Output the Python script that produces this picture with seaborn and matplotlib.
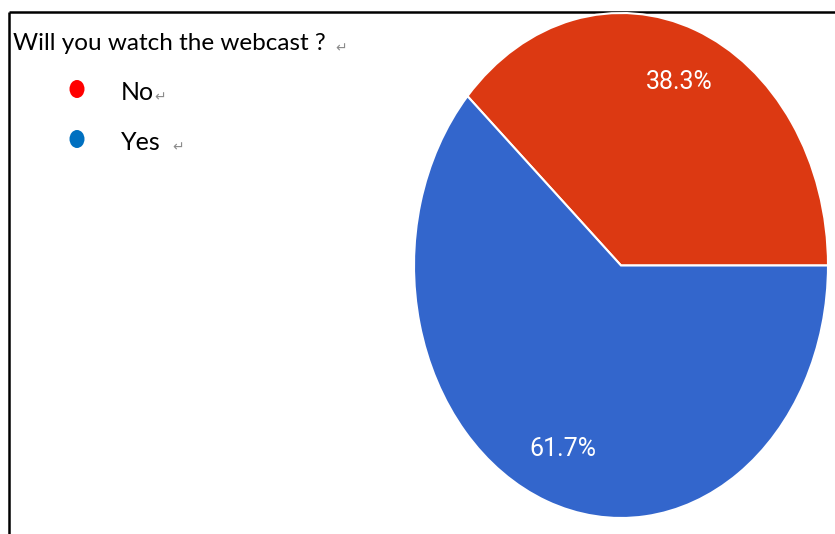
import matplotlib
matplotlib.use("Agg")
import matplotlib.pyplot as plt
import seaborn as sns
from matplotlib.patches import Ellipse

# Survey answers
question = "Will you watch the webcast ?"
answers = ["No", "Yes"]
shares = [38.3, 61.7]
slice_colors = ["#DC3912", "#3366CC"]
dot_colors = ["#FF0000", "#0070C0"]

sns.set_theme(style="white")
plt.rcParams["font.family"] = ["Lato", "DejaVu Sans"]

W, H = 835, 534
fig = plt.figure(figsize=(W / 100, H / 100), dpi=100)
fig.patch.set_facecolor("white")

# Full-figure overlay in pixel units for the frame and the key
ov = fig.add_axes([0, 0, 1, 1], zorder=0)
ov.set_xlim(0, W)
ov.set_ylim(H, 0)
ov.axis("off")

# Pie, stretched taller than wide
ax = fig.add_axes([414 / W, (H - 518) / H, 414 / W, 505 / H], zorder=1)
wedges, texts, autotexts = ax.pie(
    shares,
    colors=slice_colors,
    startangle=0,
    counterclock=True,
    autopct="%1.1f%%",
    pctdistance=0.78,
    wedgeprops=dict(edgecolor="white", linewidth=1.5),
    textprops=dict(color="white", fontsize=18, family=["Roboto", "DejaVu Sans"]),
)
for w in wedges:
    w.set_clip_on(False)
ax.set_aspect("auto")
ax.set_xlim(-1, 1)
ax.set_ylim(-1, 1)
ax.axis("off")

# Frame lines (top and left)
ov.plot([9, W], [11.5, 11.5], color="black", lw=1.8, solid_capstyle="butt")
ov.plot([9, 9], [11.5, H], color="black", lw=1.8, solid_capstyle="butt")

ret_style = dict(color="#8c8c8c", fontsize=10, family=["DejaVu Sans"],
                 va="baseline", ha="left", textcoords="offset points")

# Question heading
t = ov.text(13, 50, question, fontsize=17.5, color="#000000", va="baseline", ha="left")
ov.annotate("\u21b5", xy=(1, 0), xycoords=t, xytext=(7, 1), **ret_style)

# Key entries
key_y = [100, 150]
gaps = [0, 8]
for name, col, y, g in zip(answers, dot_colors, key_y, gaps):
    ov.add_patch(Ellipse((77, y - 11), 15, 18, color=col, lw=0))
    lt = ov.text(121, y, name, fontsize=18, color="#000000", va="baseline", ha="left")
    ov.annotate("\u21b5", xy=(1, 0), xycoords=lt, xytext=(g, 1.5), **ret_style)

fig.savefig("out.png", dpi=100)
